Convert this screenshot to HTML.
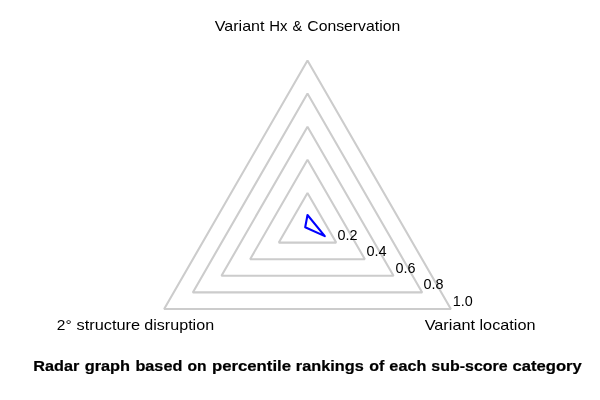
<!DOCTYPE html>
<html lang="en">
<head>
<meta charset="utf-8">
<title>Radar graph</title>
<style>
  html, body { margin: 0; padding: 0; background: #ffffff; }
  body { width: 600px; height: 400px; overflow: hidden; }
  svg { display: block; will-change: transform; }
  text { font-family: "Liberation Sans", sans-serif; font-size: 14.4px; fill: #000000; }
  .cap { font-weight: bold; stroke: #000000; stroke-width: 0.2px; stroke-linejoin: round; }
  .grid polygon { fill: none; stroke: #cccccc; stroke-width: 2.08; stroke-linejoin: bevel; }
  .series polygon { fill: none; stroke: #0000ff; stroke-width: 2.08; stroke-linejoin: round; }
</style>
</head>
<body>
<svg width="600" height="400" viewBox="0 0 600 400">
  <rect x="0" y="0" width="600" height="400" fill="#ffffff"/>
  <g class="grid">
    <polygon points="307.50,192.90 336.17,242.60 278.83,242.60"/>
    <polygon points="307.50,159.80 364.84,259.20 250.16,259.20"/>
    <polygon points="307.50,126.70 393.51,275.80 221.49,275.80"/>
    <polygon points="307.50,93.60 422.18,292.40 192.82,292.40"/>
    <polygon points="307.50,60.50 450.85,309.00 164.15,309.00"/>
  </g>
  <g class="series">
    <polygon points="307.50,215.00 324.80,236.10 305.20,227.20"/>
  </g>
  <g class="labels">
    <text y="31"><tspan x="214.76" textLength="49.75" lengthAdjust="spacingAndGlyphs">Variant</tspan> <tspan x="269.26" textLength="18.25" lengthAdjust="spacingAndGlyphs">Hx</tspan> <tspan x="292.47" textLength="9.64" lengthAdjust="spacingAndGlyphs">&amp;</tspan> <tspan x="307.31" textLength="92.88" lengthAdjust="spacingAndGlyphs">Conservation</tspan></text>
    <text y="330"><tspan x="56.86" textLength="14.84" lengthAdjust="spacingAndGlyphs">2°</tspan> <tspan x="76.55" textLength="63.62" lengthAdjust="spacingAndGlyphs">structure</tspan> <tspan x="144.30" textLength="69.79" lengthAdjust="spacingAndGlyphs">disruption</tspan></text>
    <text y="330"><tspan x="424.68" textLength="50.34" lengthAdjust="spacingAndGlyphs">Variant</tspan> <tspan x="479.49" textLength="56.02" lengthAdjust="spacingAndGlyphs">location</tspan></text>
    <text y="240"><tspan x="337.40" textLength="20.00" lengthAdjust="spacingAndGlyphs">0.2</tspan></text>
    <text y="256"><tspan x="366.40" textLength="20.20" lengthAdjust="spacingAndGlyphs">0.4</tspan></text>
    <text y="273"><tspan x="395.40" textLength="20.00" lengthAdjust="spacingAndGlyphs">0.6</tspan></text>
    <text y="289"><tspan x="423.40" textLength="20.00" lengthAdjust="spacingAndGlyphs">0.8</tspan></text>
    <text y="306"><tspan x="452.80" textLength="20.00" lengthAdjust="spacingAndGlyphs">1.0</tspan></text>
    <text class="cap" y="371"><tspan x="33.28" textLength="46.06" lengthAdjust="spacingAndGlyphs">Radar</tspan> <tspan x="84.67" textLength="45.45" lengthAdjust="spacingAndGlyphs">graph</tspan> <tspan x="135.45" textLength="46.88" lengthAdjust="spacingAndGlyphs">based</tspan> <tspan x="187.48" textLength="19.06" lengthAdjust="spacingAndGlyphs">on</tspan> <tspan x="211.96" textLength="79.05" lengthAdjust="spacingAndGlyphs">percentile</tspan> <tspan x="295.87" textLength="67.86" lengthAdjust="spacingAndGlyphs">rankings</tspan> <tspan x="369.23" textLength="15.08" lengthAdjust="spacingAndGlyphs">of</tspan> <tspan x="389.39" textLength="36.95" lengthAdjust="spacingAndGlyphs">each</tspan> <tspan x="431.36" textLength="76.27" lengthAdjust="spacingAndGlyphs">sub-score</tspan> <tspan x="512.44" textLength="69.39" lengthAdjust="spacingAndGlyphs">category</tspan></text>
  </g>
</svg>
</body>
</html>
